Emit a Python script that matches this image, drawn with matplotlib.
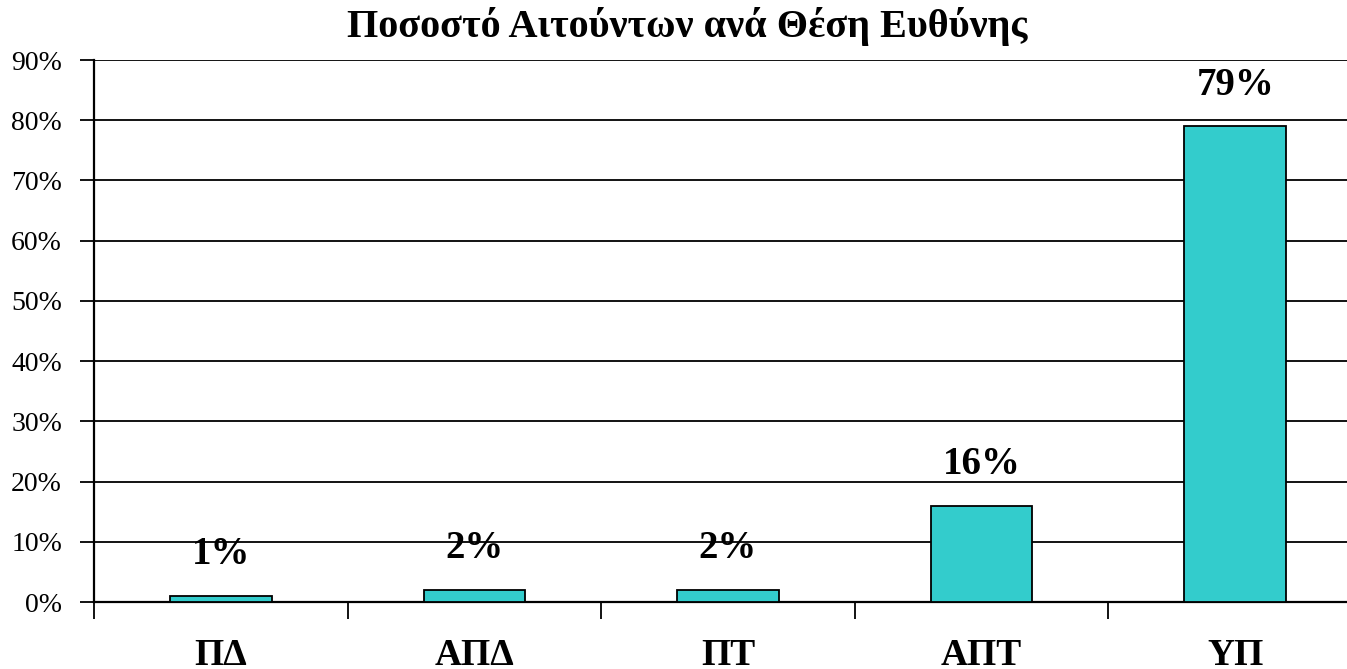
import matplotlib
matplotlib.use("Agg")
import matplotlib.pyplot as plt
import numpy as np

categories = ["ΠΔ", "ΑΠΔ", "ΠΤ", "ΑΠΤ", "ΥΠ"]
values = [1, 2, 2, 16, 79]
yticks = [0, 10, 20, 30, 40, 50, 60, 70, 80, 90]
title = "Ποσοστό Αιτούντων ανά Θέση Ευθύνης"

FONT = "Liberation Serif"
W, H = 1347, 669
fig = plt.figure(figsize=(W / 100, H / 100), dpi=100)
left, right, top, bottom = 94, 1362, 60, 602
ax = fig.add_axes([left / W, 1 - bottom / H, (right - left) / W, (bottom - top) / H])

x = np.arange(len(categories))
ax.bar(x, values, width=0.40, color="#33CCCC", edgecolor="black", linewidth=1.3, zorder=3)
ax.set_xlim(-0.5, len(categories) - 0.5)
ax.set_ylim(0, 90)
ax.set_yticks(yticks)
ax.set_yticklabels([f"{v}%" for v in yticks], fontfamily=FONT, fontsize=20)
ax.yaxis.grid(True, color="black", linewidth=1.3, zorder=0)
ax.set_axisbelow(True)

ax.set_xticks(np.arange(len(categories) + 1) - 0.5)
ax.set_xticklabels([])
ax.set_xticks(x, minor=True)
ax.set_xticklabels(categories, minor=True, fontfamily=FONT, fontsize=27, fontweight="bold")
ax.tick_params(axis="x", which="major", length=12, width=1.3, direction="out")
ax.tick_params(axis="x", which="minor", length=0, pad=26)
ax.tick_params(axis="y", length=10, width=1.3, pad=13)

for s in ["top", "right"]:
    ax.spines[s].set_visible(False)
for s in ["left", "bottom"]:
    ax.spines[s].set_linewidth(1.6)

for xi, v in zip(x, values):
    ax.annotate(f"{v}%", (xi, v), xytext=(0, 41), textcoords="offset pixels",
                ha="center", va="center", fontfamily=FONT, fontsize=28, fontweight="bold")

fig.text(687 / W, 1 - 27 / H, title, ha="center", va="center",
         fontfamily=FONT, fontsize=29, fontweight="bold")

fig.savefig("out.png", dpi=100)
